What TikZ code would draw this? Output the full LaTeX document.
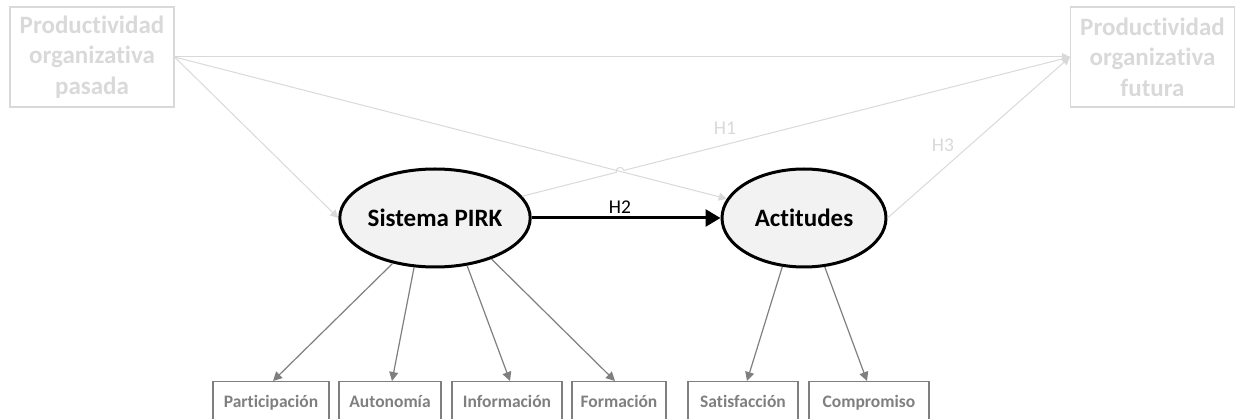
\documentclass[tikz,border=0pt]{standalone}
\usepackage{fontspec}
\setmainfont{Carlito}[RawFeature=-liga]
\usetikzlibrary{shapes.geometric,arrows.meta,calc,intersections}
\definecolor{faint}{HTML}{D9D9D9}
\definecolor{midgray}{HTML}{7F7F7F}
\definecolor{ellfill}{HTML}{F2F2F2}
\begin{document}
\begin{tikzpicture}[x=1pt,y=-1pt,
  outerbox/.style={draw=faint,line width=1.2pt,minimum width=164pt,minimum height=100pt,
    align=center,text=faint,font=\fontsize{25}{30.5}\selectfont\bfseries,inner sep=0pt},
  construct/.style={ellipse,draw=black,line width=3pt,fill=ellfill,minimum width=164pt,
    minimum height=98pt,font=\fontsize{25}{30}\selectfont\bfseries,inner sep=0pt},
  indicator/.style={draw=midgray,line width=1.3pt,text height=26pt,text depth=22pt,
    inner xsep=0pt,inner ysep=0pt,anchor=north,
    text=midgray,font=\fontsize{17.5}{21}\selectfont\bfseries},
  faintline/.style={draw=faint,line width=1pt},
  faintarrow/.style={faintline,-{Triangle[length=8pt,width=8pt]}},
  grayarrow/.style={draw=midgray,line width=1.2pt,-{Triangle[length=9pt,width=9pt]}},
  hlabel/.style={font=\fontsize{19.5}{22}\selectfont,inner sep=0pt}]
\useasboundingbox (0,0) rectangle (1235,419);

% outer productivity boxes
\node[outerbox] (past) at (92,57) {Productividad\\organizativa\\pasada};
\node[outerbox] (future) at (1152.5,57) {Productividad\\organizativa\\futura};

% latent constructs
\node[construct] (pirk) at (435,218) {Sistema PIRK};
\node[construct] (act) at (804,218) {Actitudes};

% indicators
\node[indicator,minimum width=116pt] (part) at (271,381) {Participación};
\node[indicator,minimum width=102pt] (auto) at (390,381) {Autonomía};
\node[indicator,minimum width=110pt] (info) at (507,381) {Información};
\node[indicator,minimum width=94pt]  (form) at (619,381) {Formación};
\node[indicator,minimum width=110pt] (sat)  at (743,381) {Satisfacción};
\node[indicator,minimum width=120pt] (comp) at (869,381) {Compromiso};

% controls from past productivity
\draw[faintarrow] (past.east) -- (future.west);
\draw[faintarrow] (past.east) -- (pirk.west);
\draw[faintarrow,name path=ctrl] (past.east) -- (act.166);

% H1 with a line jump where it crosses the control path
\path[name path=hone] (pirk.14) -- (future.west);
\path[name intersections={of=ctrl and hone,by=X}];
\draw[faintline] (pirk.14) -- ($(X)!4pt!(pirk.14)$) arc[start angle=194.3,end angle=14.3,radius=4pt]
  -- (future.west);
\node[hlabel,text=faint] (h1) at (725,128) {H1};

% H3
\draw[faintarrow] (act.east) -- (future.west);
\node[hlabel,text=faint] (h3) at (943,145) {H3};

% H2
\draw[line width=3pt,-{Triangle[length=15pt,width=17pt]}] (pirk.east) -- (act.west);
\node[hlabel] (h2) at (620,207) {H2};

% measurement arrows
\draw[grayarrow] (pirk.227) -- ($(part.north)+(2,0)$);
\draw[grayarrow] (pirk.247) -- ($(auto.north)+(2,0)$);
\draw[grayarrow] (pirk.304) -- ($(info.north)+(3,0)$);
\draw[grayarrow] (pirk.324) -- ($(form.north)+(-4,0)$);
\draw[grayarrow] (act.246) -- ($(sat.north)+(4,0)$);
\draw[grayarrow] (act.293) -- ($(comp.north)+(-2,0)$);
\end{tikzpicture}
\end{document}
